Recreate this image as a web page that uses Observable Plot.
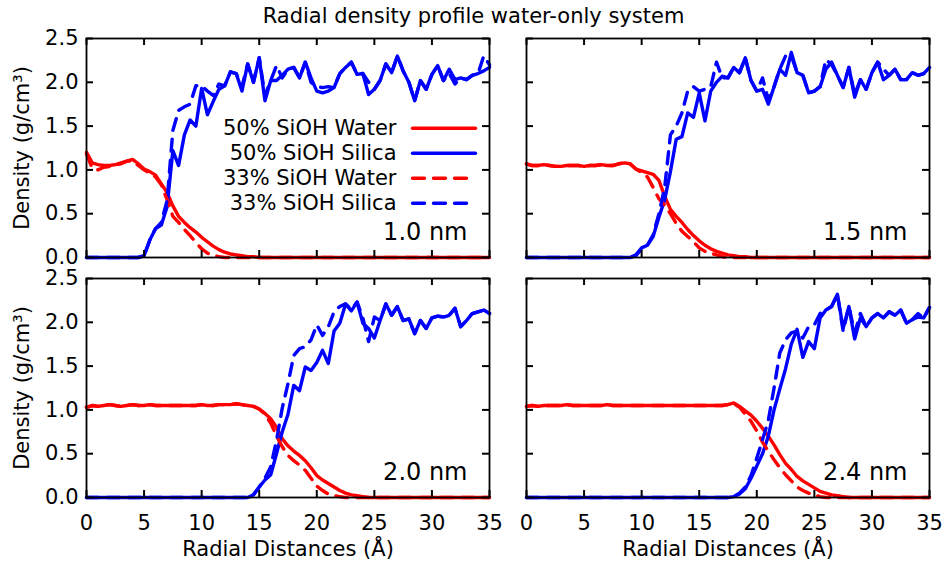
<!DOCTYPE html>
<html>
<head>
<meta charset="utf-8">
<script src="https://cdn.jsdelivr.net/npm/d3@7"></script>
<script src="https://cdn.jsdelivr.net/npm/@observablehq/plot@0.6"></script>
<style>
  html, body { margin: 0; padding: 0; background: #fff; }
  #chart { width: 947px; height: 562px; font-family: "DejaVu Sans", sans-serif; color: #000; }
  #title { height: 20px; line-height: 32px; text-align: center; font-size: 21px; white-space: nowrap; }
  #chart svg { display: block; overflow: visible; }
</style>
</head>
<body>
<div id="chart"><div id="title">Radial density profile water-only system</div></div>
<script>
// Radial distance bins (Å)
const radius = [
  0, 0.5, 1, 1.5, 2, 2.5, 3, 3.5, 4, 4.5,
  5, 5.5, 6, 6.5, 7, 7.5, 8, 8.5, 9, 9.5,
  10, 10.5, 11, 11.5, 12, 12.5, 13, 13.5, 14, 14.5,
  15, 15.5, 16, 16.5, 17, 17.5, 18, 18.5, 19, 19.5,
  20, 20.5, 21, 21.5, 22, 22.5, 23, 23.5, 24, 24.5,
  25, 25.5, 26, 26.5, 27, 27.5, 28, 28.5, 29, 29.5,
  30, 30.5, 31, 31.5, 32, 32.5, 33, 33.5, 34, 34.5,
  35
];

// ---- 1.0 nm pore (g/cm³) ----
const water50_10 = [
  1.20, 1.08, 1.06, 1.05, 1.05, 1.06, 1.07, 1.10, 1.12, 1.07,
  1.01, 0.98, 0.94, 0.84, 0.74, 0.59, 0.47, 0.40, 0.34, 0.29,
  0.23, 0.18, 0.13, 0.09, 0.06, 0.04, 0.03, 0.02, 0.01, 0.01,
  0, 0, 0, 0, 0, 0, 0, 0, 0, 0,
  0, 0, 0, 0, 0, 0, 0, 0, 0, 0,
  0, 0, 0, 0, 0, 0, 0, 0, 0, 0,
  0, 0, 0, 0, 0, 0, 0, 0, 0, 0,
  0
];
const silica50_10 = [
  0, 0, 0, 0, 0, 0, 0, 0, 0, 0,
  0.02, 0.20, 0.33, 0.37, 0.58, 1.22, 1.05, 1.40, 1.57, 1.50,
  1.93, 1.63, 1.78, 1.92, 1.96, 2.12, 2.10, 1.90, 2.21, 2.00,
  2.28, 1.79, 2.02, 2.02, 2.08, 2.15, 2.17, 2.05, 2.23, 2.05,
  1.90, 1.88, 1.90, 1.94, 2.10, 2.17, 2.23, 2.09, 2.10, 1.86,
  1.92, 2.02, 2.21, 2.11, 2.30, 2.13, 2.00, 1.79, 2.02, 1.92,
  2.09, 2.19, 2.02, 2.15, 2.03, 2.05, 2.03, 2.08, 2.10, 2.13,
  2.17
];
const water33_10 = [
  1.18, 1.02, 1.00, 1.03, 1.04, 1.06, 1.08, 1.10, 1.10, 1.05,
  1.00, 0.96, 0.92, 0.83, 0.66, 0.47, 0.40, 0.32, 0.25, 0.17,
  0.10, 0.05, 0.02, 0.01, 0, 0, 0, 0, 0, 0,
  0, 0, 0, 0, 0, 0, 0, 0, 0, 0,
  0, 0, 0, 0, 0, 0, 0, 0, 0, 0,
  0, 0, 0, 0, 0, 0, 0, 0, 0, 0,
  0, 0, 0, 0, 0, 0, 0, 0, 0, 0,
  0
];
const silica33_10 = [
  0, 0, 0, 0, 0, 0, 0, 0, 0, 0,
  0.02, 0.20, 0.33, 0.40, 0.65, 1.45, 1.68, 1.72, 1.75, 1.96,
  1.96, 1.90, 1.85, 1.98, 1.96, 2.12, 2.10, 1.95, 2.21, 2.00,
  2.28, 1.85, 2.02, 2.19, 2.05, 2.15, 2.17, 2.05, 2.23, 2.00,
  1.95, 1.94, 1.95, 1.94, 2.10, 2.17, 2.23, 2.09, 2.10, 2.00,
  1.92, 2.02, 2.21, 2.11, 2.30, 2.13, 2.00, 1.79, 2.02, 1.92,
  2.09, 2.19, 2.02, 2.10, 1.98, 2.05, 2.03, 2.08, 2.10, 2.30,
  2.20
];

// ---- 1.5 nm pore ----
const water50_15 = [
  1.07, 1.05, 1.05, 1.06, 1.05, 1.04, 1.04, 1.05, 1.05, 1.05,
  1.04, 1.05, 1.05, 1.06, 1.05, 1.05, 1.07, 1.08, 1.07, 1.01,
  0.99, 0.97, 0.95, 0.88, 0.70, 0.55, 0.47, 0.40, 0.32, 0.25,
  0.19, 0.14, 0.10, 0.07, 0.05, 0.03, 0.02, 0.01, 0.01, 0,
  0, 0, 0, 0, 0, 0, 0, 0, 0, 0,
  0, 0, 0, 0, 0, 0, 0, 0, 0, 0,
  0, 0, 0, 0, 0, 0, 0, 0, 0, 0,
  0
];
const silica50_15 = [
  0, 0, 0, 0, 0, 0, 0, 0, 0, 0,
  0, 0, 0, 0, 0, 0, 0, 0, 0, 0.03,
  0.11, 0.14, 0.24, 0.46, 0.66, 0.98, 1.35, 1.38, 1.65, 1.60,
  1.88, 1.56, 1.90, 2.00, 2.07, 2.05, 2.17, 2.11, 2.28, 2.02,
  1.90, 1.92, 1.75, 1.95, 2.15, 2.08, 2.34, 2.11, 2.08, 1.88,
  1.90, 1.95, 2.15, 2.23, 2.08, 1.94, 2.17, 1.83, 2.03, 1.92,
  2.11, 2.23, 2.03, 2.08, 2.15, 2.03, 2.03, 2.11, 2.08, 2.10,
  2.17
];
const water33_15 = [
  1.07, 1.05, 1.05, 1.06, 1.05, 1.04, 1.04, 1.05, 1.05, 1.05,
  1.04, 1.05, 1.05, 1.06, 1.05, 1.05, 1.07, 1.08, 1.07, 1.01,
  0.97, 0.92, 0.80, 0.67, 0.60, 0.50, 0.39, 0.30, 0.24, 0.18,
  0.11, 0.07, 0.05, 0.03, 0.01, 0, 0, 0, 0, 0,
  0, 0, 0, 0, 0, 0, 0, 0, 0, 0,
  0, 0, 0, 0, 0, 0, 0, 0, 0, 0,
  0, 0, 0, 0, 0, 0, 0, 0, 0, 0,
  0
];
const silica33_15 = [
  0, 0, 0, 0, 0, 0, 0, 0, 0, 0,
  0, 0, 0, 0, 0, 0, 0, 0, 0, 0.02,
  0.10, 0.14, 0.26, 0.50, 0.80, 1.40, 1.50, 1.65, 1.90, 1.95,
  1.90, 1.92, 1.95, 2.23, 2.05, 2.05, 2.17, 2.11, 2.28, 2.02,
  1.90, 2.05, 1.80, 1.95, 2.15, 2.30, 2.30, 2.11, 2.08, 1.88,
  1.90, 1.95, 2.26, 2.20, 2.08, 1.94, 2.17, 1.86, 2.03, 1.92,
  2.11, 2.23, 2.15, 2.08, 2.15, 2.03, 2.03, 2.11, 2.08, 2.10,
  2.17
];

// ---- 2.0 nm pore ----
const water50_20 = [
  1.03, 1.05, 1.04, 1.05, 1.06, 1.05, 1.04, 1.05, 1.06, 1.05,
  1.05, 1.06, 1.05, 1.05, 1.05, 1.05, 1.05, 1.05, 1.05, 1.05,
  1.06, 1.05, 1.05, 1.06, 1.06, 1.06, 1.07, 1.06, 1.05, 1.04,
  1.01, 0.96, 0.90, 0.80, 0.67, 0.59, 0.53, 0.48, 0.42, 0.34,
  0.25, 0.20, 0.16, 0.12, 0.08, 0.05, 0.03, 0.02, 0.01, 0,
  0, 0, 0, 0, 0, 0, 0, 0, 0, 0,
  0, 0, 0, 0, 0, 0, 0, 0, 0, 0,
  0
];
const silica50_20 = [
  0, 0, 0, 0, 0, 0, 0, 0, 0, 0,
  0, 0, 0, 0, 0, 0, 0, 0, 0, 0,
  0, 0, 0, 0, 0, 0, 0, 0, 0, 0.03,
  0.12, 0.20, 0.26, 0.50, 0.75, 0.95, 1.28, 1.22, 1.49, 1.45,
  1.54, 1.68, 1.53, 1.90, 1.99, 2.21, 2.13, 2.23, 1.99, 1.93,
  1.82, 2.02, 2.21, 2.08, 2.18, 2.02, 2.04, 1.87, 2.02, 1.93,
  2.05, 2.07, 2.06, 2.08, 2.16, 1.95, 2.02, 2.10, 2.12, 2.14,
  2.10
];
const water33_20 = [
  1.03, 1.05, 1.04, 1.05, 1.06, 1.05, 1.04, 1.05, 1.06, 1.05,
  1.05, 1.06, 1.05, 1.05, 1.05, 1.05, 1.05, 1.05, 1.05, 1.05,
  1.06, 1.05, 1.05, 1.06, 1.06, 1.06, 1.07, 1.06, 1.05, 1.04,
  1.01, 0.95, 0.85, 0.70, 0.58, 0.48, 0.42, 0.37, 0.31, 0.22,
  0.13, 0.08, 0.04, 0.02, 0.01, 0, 0, 0, 0, 0,
  0, 0, 0, 0, 0, 0, 0, 0, 0, 0,
  0, 0, 0, 0, 0, 0, 0, 0, 0, 0,
  0
];
const silica33_20 = [
  0, 0, 0, 0, 0, 0, 0, 0, 0, 0,
  0, 0, 0, 0, 0, 0, 0, 0, 0, 0,
  0, 0, 0, 0, 0, 0, 0, 0, 0, 0.03,
  0.12, 0.22, 0.35, 0.65, 1.02, 1.30, 1.62, 1.70, 1.72, 1.80,
  1.97, 1.85, 1.95, 2.12, 2.18, 2.21, 2.15, 2.23, 2.05, 1.78,
  2.06, 2.02, 2.21, 2.08, 2.18, 2.02, 2.04, 1.87, 2.02, 1.93,
  2.05, 2.07, 2.06, 2.08, 2.16, 1.95, 2.02, 2.10, 2.12, 2.14,
  2.10
];

// ---- 2.4 nm pore ----
const water50_24 = [
  1.04, 1.05, 1.04, 1.05, 1.05, 1.05, 1.05, 1.06, 1.05, 1.05,
  1.05, 1.05, 1.05, 1.05, 1.06, 1.05, 1.05, 1.05, 1.05, 1.05,
  1.05, 1.05, 1.05, 1.05, 1.05, 1.05, 1.05, 1.05, 1.05, 1.05,
  1.05, 1.05, 1.05, 1.05, 1.05, 1.06, 1.08, 1.04, 0.99, 0.94,
  0.87, 0.79, 0.70, 0.60, 0.49, 0.39, 0.32, 0.24, 0.19, 0.15,
  0.11, 0.07, 0.05, 0.03, 0.02, 0.01, 0, 0, 0, 0,
  0, 0, 0, 0, 0, 0, 0, 0, 0, 0,
  0
];
const silica50_24 = [
  0, 0, 0, 0, 0, 0, 0, 0, 0, 0,
  0, 0, 0, 0, 0, 0, 0, 0, 0, 0,
  0, 0, 0, 0, 0, 0, 0, 0, 0, 0,
  0, 0, 0, 0, 0, 0, 0.01, 0.04, 0.10, 0.22,
  0.36, 0.50, 0.70, 1.00, 1.24, 1.47, 1.75, 1.92, 1.60, 1.78,
  1.70, 2.05, 2.14, 2.18, 2.32, 1.93, 2.18, 1.81, 2.05, 1.95,
  2.05, 2.10, 2.05, 2.12, 2.08, 2.14, 1.99, 2.03, 2.06, 2.05,
  2.17
];
const water33_24 = [
  1.04, 1.05, 1.04, 1.05, 1.05, 1.05, 1.05, 1.06, 1.05, 1.05,
  1.05, 1.05, 1.05, 1.05, 1.06, 1.05, 1.05, 1.05, 1.05, 1.05,
  1.05, 1.05, 1.05, 1.05, 1.05, 1.05, 1.05, 1.05, 1.05, 1.05,
  1.05, 1.05, 1.05, 1.05, 1.05, 1.06, 1.07, 1.03, 0.95, 0.87,
  0.76, 0.63, 0.53, 0.43, 0.34, 0.26, 0.19, 0.12, 0.08, 0.05,
  0.03, 0.01, 0, 0, 0, 0, 0, 0, 0, 0,
  0, 0, 0, 0, 0, 0, 0, 0, 0, 0,
  0
];
const silica33_24 = [
  0, 0, 0, 0, 0, 0, 0, 0, 0, 0,
  0, 0, 0, 0, 0, 0, 0, 0, 0, 0,
  0, 0, 0, 0, 0, 0, 0, 0, 0, 0,
  0, 0, 0, 0, 0, 0, 0.01, 0.05, 0.12, 0.25,
  0.45, 0.66, 0.88, 1.25, 1.65, 1.80, 1.88, 1.90, 1.82, 1.95,
  1.97, 2.10, 2.14, 2.18, 2.32, 1.90, 2.18, 1.88, 2.10, 1.95,
  2.05, 2.10, 2.05, 2.12, 2.08, 2.14, 1.99, 2.03, 2.10, 2.05,
  2.17
];

// Panel captions and axis ticks
const poreLabels = ["1.0 nm", "1.5 nm", "2.0 nm", "2.4 nm"];
const legendLabels = ["50% SiOH Water", "50% SiOH Silica", "33% SiOH Water", "33% SiOH Silica"];
const xTicks = [0, 5, 10, 15, 20, 25, 30, 35];
const yTicks = [0, 0.5, 1, 1.5, 2, 2.5];

const panels = [
  {w50: water50_10, s50: silica50_10, w33: water33_10, s33: silica33_10},
  {w50: water50_15, s50: silica50_15, w33: water33_15, s33: silica33_15},
  {w50: water50_20, s50: silica50_20, w33: water33_20, s33: silica33_20},
  {w50: water50_24, s50: silica50_24, w33: water33_24, s33: silica33_24}
].map((p, i) => ({...p, label: poreLabels[i], col: i % 2, row: Math.floor(i / 2)}));

// Long-format rows for one curve type across all four panels
function rows(key) {
  return panels.flatMap(p => p[key].map((v, i) => ({r: radius[i], v, col: p.col, row: p.row})));
}
// One tick entry per panel and tick value
const tickRows = ticks => panels.flatMap(p => ticks.map(t => ({t, col: p.col, row: p.row})));

const RED = "#ff0000";
const BLUE = "#0000ff";
const DASH = "12,9";
const LINE_W = 3.4;

const styles = [
  {color: RED, dash: null},
  {color: BLUE, dash: null},
  {color: RED, dash: DASH},
  {color: BLUE, dash: DASH}
];

// Layout of the 2×2 panel grid
const W = 947, H = 542;
const M = {top: 18, right: 18, bottom: 65, left: 86};
const GAP_X = 37, GAP_Y = 21;
const PANEL_W = (W - M.left - M.right - GAP_X) / 2;
const PANEL_H = (H - M.top - M.bottom - GAP_Y) / 2;
const TICK = 7;

const facetXY = {fx: "col", fy: "row"};
const lineOpts = {x: "r", y: "v", ...facetXY, strokeWidth: LINE_W, strokeLinejoin: "round"};
const firstPanel = panels.filter(p => p.col === 0 && p.row === 0);
const swatch = {draw(context, l) { context.moveTo(0, 0); context.lineTo(l, 0); }};
const tickRule = {...facetXY, stroke: "#000", strokeWidth: 2};

const plot = Plot.plot({
  width: W,
  height: H,
  marginTop: M.top,
  marginBottom: M.bottom,
  marginLeft: M.left,
  marginRight: M.right,
  style: {fontFamily: "DejaVu Sans, sans-serif", fontSize: "21px", color: "#000", background: "transparent", overflow: "visible"},
  fx: {domain: [0, 1], paddingInner: GAP_X / (PANEL_W + GAP_X), paddingOuter: 0, round: false, axis: null},
  fy: {domain: [0, 1], paddingInner: GAP_Y / (PANEL_H + GAP_Y), paddingOuter: 0, round: false, axis: null},
  x: {domain: [0, 35]},
  y: {domain: [0, 2.5]},
  marks: [
    Plot.line(rows("w50"), {...lineOpts, stroke: RED}),
    Plot.line(rows("s50"), {...lineOpts, stroke: BLUE}),
    Plot.line(rows("w33"), {...lineOpts, stroke: RED, strokeDasharray: DASH}),
    Plot.line(rows("s33"), {...lineOpts, stroke: BLUE, strokeDasharray: DASH}),
    Plot.frame({stroke: "#000", strokeWidth: 1.8}),
    // inward ticks on all four sides of every panel
    Plot.ruleX(tickRows(xTicks), {x: "t", insetTop: PANEL_H - TICK, ...tickRule}),
    Plot.ruleX(tickRows(xTicks), {x: "t", insetBottom: PANEL_H - TICK, ...tickRule}),
    Plot.ruleY(tickRows(yTicks), {y: "t", insetRight: PANEL_W - TICK, ...tickRule}),
    Plot.ruleY(tickRows(yTicks), {y: "t", insetLeft: PANEL_W - TICK, ...tickRule}),
    // tick labels on the outer edges only
    Plot.axisX(xTicks, {anchor: "bottom", tickSize: 0, tickPadding: 18, label: null}),
    Plot.axisY(yTicks, {anchor: "left", tickSize: 0, tickPadding: 8, tickFormat: d3.format(".1f"), label: null}),
    // axis titles
    Plot.text(panels.filter(p => p.col === 0), {...facetXY, text: () => "Density (g/cm³)", frameAnchor: "left", textAnchor: "middle", lineAnchor: "middle", rotate: -90, dx: -64}),
    Plot.text(panels.filter(p => p.row === 1), {...facetXY, text: () => "Radial Distances (Å)", frameAnchor: "bottom", textAnchor: "middle", lineAnchor: "middle", dy: 52}),
    // pore size caption
    Plot.text(panels, {...facetXY, text: "label", frameAnchor: "bottom-right", textAnchor: "end", lineAnchor: "middle", dx: -22, dy: -25, fontSize: 24}),
    // legend in the first panel
    ...legendLabels.map((label, i) => Plot.text(firstPanel, {
      ...facetXY, text: () => label, frameAnchor: "top-right", textAnchor: "end", lineAnchor: "middle",
      dx: -93, dy: 89.7 + 25 * i
    })),
    ...styles.map((s, i) => Plot.vector(firstPanel, {
      ...facetXY, frameAnchor: "top-right", dx: -77, dy: 89.7 + 25 * i,
      length: 63, anchor: "start", shape: swatch,
      stroke: s.color, strokeWidth: LINE_W, strokeDasharray: s.dash
    }))
  ]
});

document.getElementById("chart").appendChild(plot);
</script>
</body>
</html>
